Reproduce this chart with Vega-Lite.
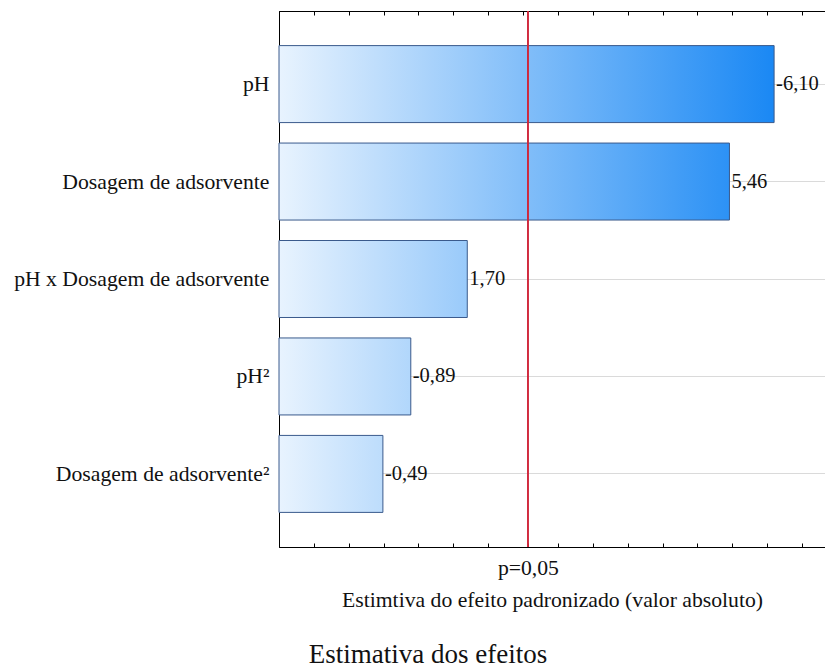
{
  "$schema": "https://vega.github.io/schema/vega-lite/v6.json",
  "width": 546,
  "height": 536,
  "autosize": {"type": "none"},
  "padding": {"left": 279, "top": 11, "right": 0, "bottom": 125},
  "background": "white",
  "config": {
    "locale": {"number": {"decimal": ",", "thousands": ".", "grouping": [3], "currency": ["", ""], "minus": "-"}},
    "font": "Liberation Serif",
    "view": {"stroke": "#000", "strokeWidth": 1},
    "axis": {"labelFont": "Liberation Serif", "titleFont": "Liberation Serif", "labelColor": "#111", "titleColor": "#111", "domainColor": "#000", "tickColor": "#000", "titleFontWeight": "normal"}
  },
  "title": {"text": "Estimativa dos efeitos", "orient": "bottom", "anchor": "middle", "dx": -124, "offset": 31, "fontSize": 27, "font": "Liberation Serif", "fontWeight": "normal", "color": "#111"},
  "data": {"values": [
    {"term": "pH", "effect": -6.10, "abs": 6.10},
    {"term": "Dosagem de adsorvente", "effect": 5.46, "abs": 5.46},
    {"term": "pH x Dosagem de adsorvente", "effect": 1.70, "abs": 1.70},
    {"term": "pH²", "effect": -0.89, "abs": 0.89},
    {"term": "Dosagem de adsorvente²", "effect": -0.49, "abs": 0.49}
  ]},
  "resolve": {"axis": {"x": "independent"}},
  "layer": [
    {
      "mark": {"type": "bar", "stroke": "#3a5a8c", "strokeWidth": 1},
      "encoding": {
        "y": {"field": "term", "type": "nominal", "sort": ["pH", "Dosagem de adsorvente", "pH x Dosagem de adsorvente", "pH²", "Dosagem de adsorvente²"],
              "scale": {"paddingInner": 0.21, "paddingOuter": 0.355},
              "axis": {"title": null, "labelFontSize": 21.7, "labelPadding": 14, "labelLimit": 0, "grid": true, "gridColor": "#dadada", "tickSize": -4, "domain": true}},
        "x": {"field": "abs", "type": "quantitative", "scale": {"domain": [-1, 6.83], "nice": false, "zero": false},
              "axis": {"orient": "bottom", "values": [-0.5, 0, 0.5, 1, 1.5, 2, 2.57, 3, 3.5, 4, 4.5, 5, 5.5, 6, 6.5],
                       "labelExpr": "datum.value == 2.57 ? 'p=0,05' : ''", "labelFontSize": 21.7, "labelPadding": 14,
                       "tickSize": -4, "grid": false,
                       "title": "Estimtiva do efeito padronizado (valor absoluto)", "titleFontSize": 21.7, "titlePadding": 11}},
        "x2": {"datum": -1},
        "fill": {
          "condition": [
            {"test": "datum.term === 'Dosagem de adsorvente'", "value": {"gradient": "linear", "x1": 0, "y1": 0, "x2": 1.099, "y2": 0, "stops": [{"offset": 0, "color": "#e8f3fe"}, {"offset": 1, "color": "#1a88f4"}]}},
            {"test": "datum.term === 'pH x Dosagem de adsorvente'", "value": {"gradient": "linear", "x1": 0, "y1": 0, "x2": 2.63, "y2": 0, "stops": [{"offset": 0, "color": "#e8f3fe"}, {"offset": 1, "color": "#1a88f4"}]}},
            {"test": "datum.term === 'pH²'", "value": {"gradient": "linear", "x1": 0, "y1": 0, "x2": 3.76, "y2": 0, "stops": [{"offset": 0, "color": "#e8f3fe"}, {"offset": 1, "color": "#1a88f4"}]}},
            {"test": "datum.term === 'Dosagem de adsorvente²'", "value": {"gradient": "linear", "x1": 0, "y1": 0, "x2": 4.77, "y2": 0, "stops": [{"offset": 0, "color": "#e8f3fe"}, {"offset": 1, "color": "#1a88f4"}]}}
          ],
          "value": {"gradient": "linear", "x1": 0, "y1": 0, "x2": 1, "y2": 0, "stops": [{"offset": 0, "color": "#e8f3fe"}, {"offset": 1, "color": "#1a88f4"}]}
        }
      }
    },
    {
      "mark": {"type": "text", "align": "left", "baseline": "middle", "dx": 2, "fontSize": 20.5, "font": "Liberation Serif", "color": "#111"},
      "encoding": {
        "y": {"field": "term", "type": "nominal", "sort": ["pH", "Dosagem de adsorvente", "pH x Dosagem de adsorvente", "pH²", "Dosagem de adsorvente²"]},
        "x": {"field": "abs", "type": "quantitative",
              "axis": {"orient": "top", "values": [-0.5, 0, 0.5, 1, 1.5, 2, 2.5, 3, 3.5, 4, 4.5, 5, 5.5, 6, 6.5], "labels": false, "tickSize": -4, "grid": false, "title": null}},
        "text": {"field": "effect", "type": "quantitative", "format": ".2f"}
      }
    },
    {
      "mark": {"type": "rule", "color": "#d0283c", "strokeWidth": 1},
      "encoding": {
        "x": {"datum": 2.57, "axis": null}
      }
    }
  ]
}
